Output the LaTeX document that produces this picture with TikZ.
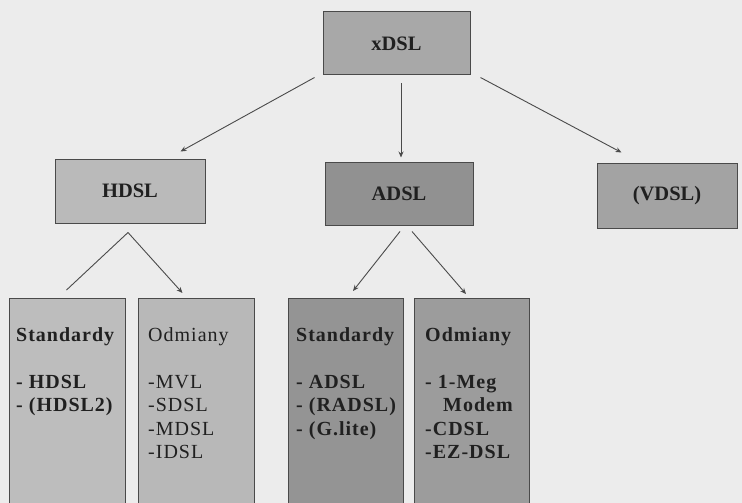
\documentclass[tikz,border=0pt]{standalone}
\usepackage{fontspec}
\setmainfont{Liberation Serif}
\usepackage{tikz}
\usetikzlibrary{arrows.meta}

\definecolor{paper}{HTML}{ECECEC}
\definecolor{edge}{HTML}{4A4A4A}
\definecolor{ink}{HTML}{202020}

\begin{document}
\begin{tikzpicture}[x=1pt,y=-1pt,>={Stealth[length=6pt,width=5pt]},
		box/.style={draw=edge,line width=1pt,inner sep=0pt,text=ink,
			font=\fontsize{20.5}{24}\selectfont\bfseries},
		col/.style={box,anchor=north west,minimum width=115pt,minimum height=225pt},
		list/.style={anchor=north west,inner sep=0pt,align=left,text=ink,
			font=\fontsize{20}{23.5}\selectfont\bfseries\addfontfeature{LetterSpace=5}},
		link/.style={draw=edge,line width=0.9pt}]
			
			\fill[paper] (0,0) rectangle (742,503);
			\useasboundingbox (0,0) rectangle (742,503);
			
			\node[box,fill=black!34,minimum width=147pt,minimum height=63pt] (xdsl) at (396.5,43.5) {xDSL};
			\node[box,fill=black!27,minimum width=150pt,minimum height=64pt] (hdsl) at (130,191) {HDSL};
			\node[box,fill=black!43,minimum width=148pt,minimum height=63pt] (adsl) at (399,193.5) {ADSL};
			\node[box,fill=black!36,minimum width=140pt,minimum height=65pt] (vdsl) at (667,195.5) {(VDSL)};
			
			\node[col,fill=black!26,minimum width=116pt] (hstd) at (9,298) {};
			\node[col,fill=black!28,minimum width=116pt] (hodm) at (138,298) {};
			\node[col,fill=black!42] (astd) at (288,298) {};
			\node[col,fill=black!39] (aodm) at (414,298) {};
			
			\node[list] (hstdtxt) at (16,327) {Standardy\\[23.5pt]- HDSL\\- (HDSL2)};
			\node[list,font=\fontsize{20}{23.5}\selectfont\addfontfeature{LetterSpace=5}] (hodmtxt) at (148,327) {Odmiany\\[23.5pt]-MVL\\-SDSL\\-MDSL\\-IDSL};
			\node[list] (astdtxt) at (296,327) {Standardy\\[23.5pt]- ADSL\\- (RADSL)\\- (G.lite)};
			\node[list] (aodmtxt) at (425,327) {Odmiany\\[23.5pt]- 1-Meg\\\hspace{0.9em}Modem\\-CDSL\\-EZ-DSL};
			
			\draw[link,->] ([shift={(-8,2)}]xdsl.south west) -- ([shift={(-25,-7)}]hdsl.north east);
			\draw[link,->] ([shift={(4.5,8)}]xdsl.south) -- ([shift={(2,-4)}]adsl.north);
			\draw[link,->] ([shift={(10,2)}]xdsl.south east) -- ([shift={(25,-10)}]vdsl.north west);
			
			\draw[link] ([shift={(-2,9)}]hdsl.south) -- ([shift={(-1,-8)}]hstd.north);
			\draw[link,->] ([shift={(-2,9)}]hdsl.south) -- ([shift={(-14,-5)}]hodm.north);
			\draw[link,->] ([shift={(1,6)}]adsl.south) -- ([shift={(7,-7)}]astd.north);
			\draw[link,->] ([shift={(13,6)}]adsl.south) -- ([shift={(-6,-4)}]aodm.north);
	
		\end{tikzpicture}
\end{document}
